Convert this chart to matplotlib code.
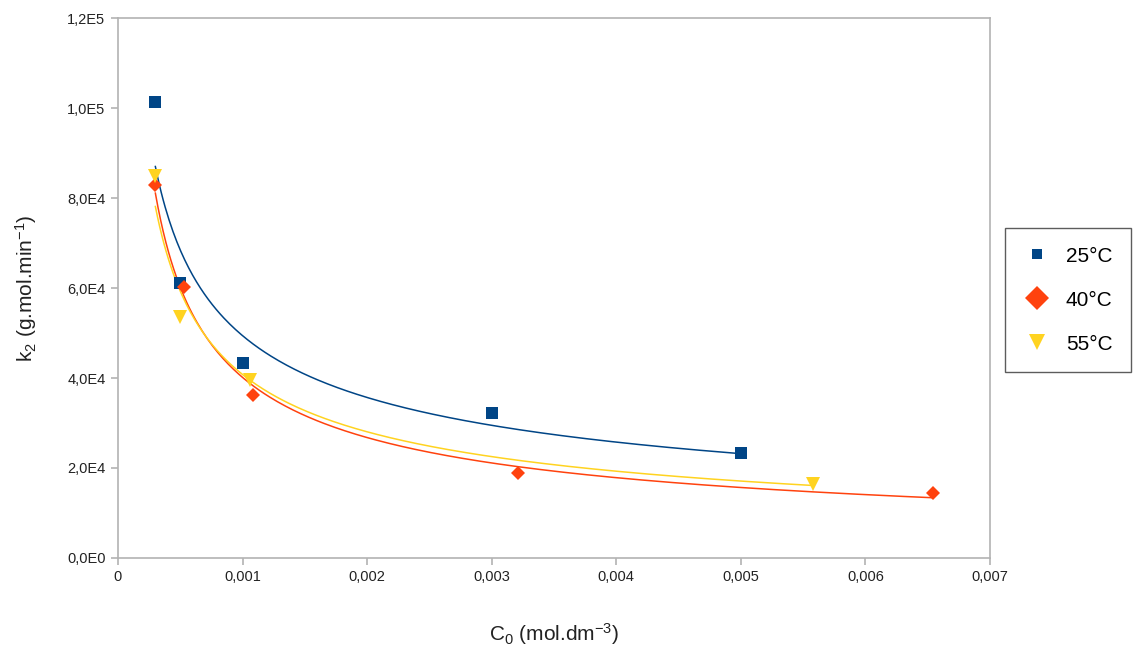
import numpy as np
import matplotlib.pyplot as plt
from matplotlib.lines import Line2D
from matplotlib.ticker import FuncFormatter, MultipleLocator

plt.rcParams['font.family'] = ['Liberation Sans', 'DejaVu Sans']
plt.rcParams['mathtext.fontset'] = 'custom'
plt.rcParams['mathtext.rm'] = 'Liberation Sans'
plt.rcParams['mathtext.it'] = 'Liberation Sans'

# initial concentration (mol/dm3) and rate constant k2 for each temperature
c0_25 = [0.0003, 0.0005, 0.0010, 0.0030, 0.0050]
k2_25 = [101300, 61100, 43300, 32200, 23300]

c0_40 = [0.0003, 0.00053, 0.00108, 0.00321, 0.00654]
k2_40 = [82900, 60200, 36200, 18900, 14400]

c0_55 = [0.0003, 0.0005, 0.00106, 0.00558]
k2_55 = [84900, 53600, 39500, 16400]

# label, x, y, colour, marker, plot size, legend size
series = [
    ("25°C", c0_25, k2_25, "#004586", "s", 9, 7),
    ("40°C", c0_40, k2_40, "#ff420e", "D", 7, 12),
    ("55°C", c0_55, k2_55, "#ffd320", "v", 10, 11),
]


def power_fit(x, y):
    # y = a * x^b, fitted in log space
    b, loga = np.polyfit(np.log(x), np.log(y), 1)
    return np.exp(loga), b


def sci_comma(v, pos):
    if v == 0:
        return "0,0E0"
    exp = int(np.floor(np.log10(abs(v))))
    mant = v / 10 ** exp
    return "{:.1f}E{}".format(mant, exp).replace(".", ",")


def dec_comma(v, pos):
    if abs(v) < 1e-12:
        return "0"
    return "{:.3f}".format(v).replace(".", ",")


fig = plt.figure(figsize=(11.4, 6.48), dpi=100)
ax = fig.add_axes([0.1035, 0.1389, 0.7649, 0.8333])

handles = []
for label, x, y, color, marker, ms, lms in series:
    a, b = power_fit(x, y)
    xs = np.linspace(min(x), max(x), 300)
    ax.plot(xs, a * xs ** b, color=color, lw=1.1, zorder=2)
    ax.plot(x, y, linestyle="none", marker=marker, color=color,
            markersize=ms, markeredgewidth=0, zorder=3)
    handles.append(Line2D([], [], linestyle="none", marker=marker, color=color,
                          markersize=lms, markeredgewidth=0, label=label))

ax.set_xlim(0, 0.007)
ax.set_ylim(0, 120000)
ax.xaxis.set_major_locator(MultipleLocator(0.001))
ax.yaxis.set_major_locator(MultipleLocator(20000))
ax.xaxis.set_major_formatter(FuncFormatter(dec_comma))
ax.yaxis.set_major_formatter(FuncFormatter(sci_comma))

for s in ax.spines.values():
    s.set_color("#b3b3b3")
    s.set_linewidth(1.2)
ax.tick_params(axis="both", colors="#b3b3b3", length=5, width=1.2,
               labelcolor="#222222", labelsize=10.5, pad=4)

ax.set_xlabel("C$_0$ (mol.dm$^{-3}$)", fontsize=15, labelpad=26, color="#222222")
ax.set_ylabel("k$_2$ (g.mol.min$^{-1}$)", fontsize=15, labelpad=20, color="#222222")

leg = fig.legend(handles=handles, loc="center left",
                 bbox_to_anchor=(0.882, 0.537), borderaxespad=0, fontsize=15,
                 frameon=True, fancybox=False, borderpad=0.9,
                 labelspacing=1.2, handletextpad=0.8, handlelength=1.2)
leg.get_frame().set_edgecolor("#333333")
leg.get_frame().set_linewidth(1.0)

fig.savefig("out.png", dpi=100)
